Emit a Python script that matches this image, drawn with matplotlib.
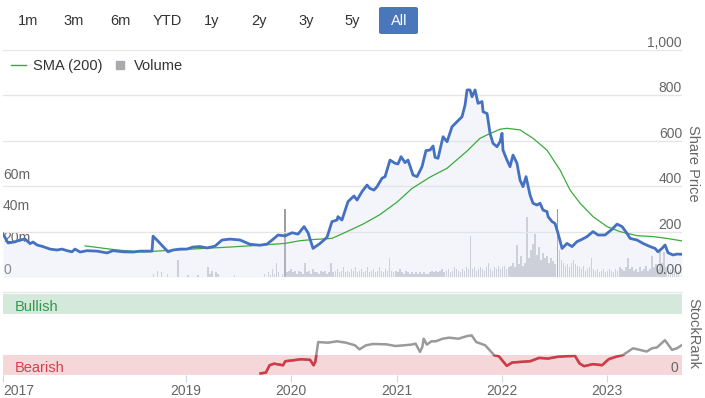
"""
Share price / volume / StockRank chart, drawn with matplotlib.
Writes out.png (705x398).
"""

import matplotlib
matplotlib.use("Agg")
import matplotlib.pyplot as plt
import matplotlib.transforms as mtransforms
from matplotlib.lines import Line2D
from matplotlib.patches import FancyBboxPatch, Rectangle
import numpy as np

plt.rcParams["font.family"] = ["Liberation Sans", "DejaVu Sans"]

# ---- data (x in decimal years) ----
PRICE_T = [
    2017.262, 2017.310, 2017.376, 2017.424, 2017.471, 2017.519, 2017.547, 2017.585,
    2017.642, 2017.708, 2017.775, 2017.822, 2017.870, 2017.917, 2017.946, 2017.993,
    2018.060, 2018.155, 2018.250, 2018.307, 2018.402, 2018.497, 2018.563, 2018.677,
    2018.687, 2018.734, 2018.782, 2018.829, 2018.877, 2018.943, 2019.009, 2019.066,
    2019.133, 2019.199, 2019.275, 2019.342, 2019.418, 2019.513, 2019.608, 2019.703,
    2019.769, 2019.826, 2019.874, 2019.940, 2020.007, 2020.064, 2020.121, 2020.159,
    2020.206, 2020.273, 2020.339, 2020.386, 2020.434, 2020.443, 2020.481, 2020.538,
    2020.595, 2020.624, 2020.671, 2020.719, 2020.747, 2020.785, 2020.814, 2020.861,
    2020.890, 2020.937, 2020.985, 2021.013, 2021.042, 2021.080, 2021.108, 2021.156,
    2021.194, 2021.241, 2021.279, 2021.317, 2021.346, 2021.365, 2021.393, 2021.441,
    2021.479, 2021.526, 2021.574, 2021.621, 2021.650, 2021.669, 2021.697, 2021.716,
    2021.745, 2021.773, 2021.811, 2021.821, 2021.859, 2021.868, 2021.887, 2021.915,
    2021.953, 2021.982, 2022.001, 2022.010, 2022.048, 2022.077, 2022.105, 2022.143,
    2022.172, 2022.200, 2022.229, 2022.267, 2022.295, 2022.333, 2022.362, 2022.390,
    2022.428, 2022.438, 2022.476, 2022.504, 2022.533, 2022.571, 2022.618, 2022.666,
    2022.713, 2022.761, 2022.808, 2022.865, 2022.913, 2022.979, 2023.045, 2023.093,
    2023.141, 2023.188, 2023.217, 2023.283, 2023.340, 2023.407, 2023.454, 2023.482,
    2023.520, 2023.549, 2023.577, 2023.625, 2023.662, 2023.710,
]
PRICE = [
    190, 150, 155, 163, 167, 147, 154, 141,
    134, 123, 119, 123, 116, 111, 123, 110,
    116, 114, 106, 116, 111, 110, 114, 114,
    180, 158, 134, 111, 119, 123, 123, 132,
    134, 128, 136, 163, 167, 163, 144, 140,
    145, 166, 185, 181, 195, 189, 222, 195,
    126, 148, 175, 244, 251, 266, 251, 332,
    357, 339, 376, 405, 390, 383, 398, 435,
    442, 515, 501, 498, 530, 504, 515, 449,
    442, 486, 557, 559, 577, 527, 523, 618,
    596, 662, 684, 706, 758, 824, 824, 794,
    824, 765, 773, 728, 720, 692, 633, 589,
    574, 596, 633, 559, 515, 486, 537, 501,
    427, 398, 442, 361, 325, 317, 325, 295,
    288, 266, 244, 236, 192, 126, 148, 134,
    156, 166, 178, 200, 185, 185, 210, 233,
    222, 192, 170, 163, 148, 134, 126, 111,
    126, 141, 107, 97, 101, 100,
]

SMA_T = [
    2018.041, 2018.345, 2018.592, 2018.820, 2019.133, 2019.418, 2019.731, 2019.940,
    2020.083, 2020.206, 2020.386, 2020.529, 2020.681, 2020.842, 2021.004, 2021.146,
    2021.317, 2021.479, 2021.669, 2021.792, 2021.859, 2021.982, 2022.048, 2022.172,
    2022.295, 2022.428, 2022.552, 2022.647, 2022.742, 2022.865, 2022.998, 2023.121,
    2023.283, 2023.435, 2023.567, 2023.710,
]
SMA = [
    137, 119, 110, 117, 125, 132, 141, 148,
    160, 165, 170, 200, 233, 275, 330, 390,
    440, 479, 555, 611, 626, 651, 655, 648,
    611, 559, 471, 383, 325, 266, 222, 200,
    182, 178, 170, 159,
]

# weekly volume in millions, first week at VOL_START
VOL_START = 2018.673
VOL = [
    0, 2, 0, 4, 0, 3, 0, 0, 2, 0, 0, 0, 0, 11, 0, 0, 0, 0, 1, 0,
    0, 0, 0, 1, 0, 0, 0, 0, 6, 2, 4, 0, 3, 2, 0, 0, 0, 0, 0, 0,
    0, 1, 0, 0, 0, 0, 0, 0, 0, 0, 0, 0, 0, 0, 0, 0, 2, 0, 3, 1,
    5, 2, 9, 3, 0, 2, 43, 3, 4, 5, 3, 4, 2, 4, 3, 2, 9, 3, 4, 2,
    5, 3, 3, 2, 4, 3, 4, 2, 3, 9, 3, 4, 5, 3, 4, 6, 3, 4, 3, 5,
    4, 6, 3, 4, 5, 3, 4, 6, 3, 4, 5, 3, 4, 6, 4, 3, 5, 4, 12, 4,
    3, 4, 3, 5, 3, 2, 4, 3, 2, 3, 2, 3, 2, 3, 2, 3, 2, 2, 3, 4,
    3, 4, 3, 4, 5, 3, 4, 5, 3, 4, 6, 5, 4, 3, 5, 4, 6, 5, 26, 5,
    6, 4, 5, 6, 5, 4, 6, 9, 5, 4, 6, 5, 7, 5, 6, 7, 5, 6, 7, 9,
    6, 20, 8, 13, 7, 9, 38, 12, 17, 21, 27, 14, 19, 11, 15, 12, 13, 9, 12, 10,
    8, 43, 17, 11, 9, 7, 8, 6, 9, 11, 8, 7, 6, 5, 7, 4, 5, 6, 12, 5,
    4, 5, 3, 4, 5, 3, 4, 5, 4, 3, 5, 4, 6, 5, 4, 6, 12, 5, 6, 4,
    5, 3, 6, 4, 5, 7, 4, 5, 13, 6, 8, 5, 17, 9, 16, 6, 4, 5, 3, 4,
    3, 4,
]

RANK_T = [
    2019.708, 2019.759, 2019.793, 2019.836, 2019.878, 2019.921, 2019.943, 2020.007,
    2020.092, 2020.178, 2020.212, 2020.229, 2020.255, 2020.348, 2020.433, 2020.519,
    2020.604, 2020.647, 2020.710, 2020.775, 2020.902, 2020.988, 2021.073, 2021.138,
    2021.180, 2021.222, 2021.244, 2021.257, 2021.287, 2021.330, 2021.372, 2021.436,
    2021.500, 2021.585, 2021.670, 2021.713, 2021.756, 2021.841, 2021.927, 2021.970,
    2022.046, 2022.097, 2022.182, 2022.268, 2022.353, 2022.439, 2022.523, 2022.609,
    2022.694, 2022.737, 2022.780, 2022.865, 2022.951, 2023.014, 2023.079, 2023.150,
    2023.245, 2023.375, 2023.425, 2023.472, 2023.548, 2023.615, 2023.662, 2023.710,
]
RANK = [
    2, 3, 12, 14, 13, 12, 17, 18,
    19.5, 18.7, 12, 17, 40.7, 39.9, 41.6, 39.9,
    36.7, 31.7, 36.7, 38.3, 37.9, 35.8, 36.7, 37.5,
    38.7, 28.5, 34.6, 44.8, 37.5, 41.6, 41.6, 44.8,
    46.1, 44.8, 48.1, 48.9, 40.7, 36.7, 24.4, 23.2,
    11.3, 15.4, 16.2, 17, 21.1, 20.3, 22.4, 23.2,
    23.6, 14.2, 10.9, 13.4, 12.1, 19.5, 22.4, 24.7,
    33, 29, 33, 34, 43, 31, 33, 37,
]

PRICE_TICKS = [0, 200, 400, 600, 800, 1000]
PRICE_TICK_LABELS = ["0.00", "200", "400", "600", "800", "1,000"]
VOL_TICKS = [0, 20, 40, 60]
VOL_TICK_LABELS = ["0", "20m", "40m", "60m"]
YEAR_TICKS = [2017.262, 2019, 2020, 2021, 2022, 2023]
YEAR_LABELS = ["2017", "2019", "2020", "2021", "2022", "2023"]
RANGE_BUTTONS = ["1m", "3m", "6m", "YTD", "1y", "2y", "3y", "5y", "All"]

# ---- style / layout ----
W, H = 705, 398
BUTTON_X = [28, 74, 120, 167, 212, 259, 306, 352, 399]
GRID = "#e6e6e6"
LABEL = "#666666"
BLUE = "#4471c1"
GREEN = "#3cab3c"
VOL_TOP = 227 / 1.59  # volume axis max (millions) over the plot height
X_END = 2023.710


def fx(x):
    return x / W


def fy(y):
    return 1 - y / H


fig = plt.figure(figsize=(W / 100, H / 100), dpi=100)

main_rect = [fx(3), fy(277), (682 - 3) / W, (277 - 50) / H]
axv = fig.add_axes(main_rect, zorder=1)
ax = fig.add_axes(main_rect, zorder=2, facecolor="none")

# volume bars (bottom layer)
vol = np.array(VOL, dtype=float)
vol_x = VOL_START + np.arange(len(vol)) * 7 / 365.25
vol_colors = np.where(vol >= 40, "#9d9da2", "#c9cacf")
axv.bar(vol_x, vol, width=5 / 365.25, color=vol_colors, linewidth=0)
axv.set_ylim(0, VOL_TOP)
axv.set_xlim(YEAR_TICKS[0], X_END)
axv.axis("off")

# price + SMA
ax.fill_between(PRICE_T, PRICE, 0, color="#d8e0f2", alpha=0.3, lw=0)
ax.plot(SMA_T, SMA, color=GREEN, lw=0.9, zorder=3)
ax.plot(PRICE_T, PRICE, color=BLUE, lw=2.0, zorder=4, solid_joinstyle="round")
ax.set_xlim(YEAR_TICKS[0], X_END)
ax.set_ylim(0, 1000)
ax.set_yticks(PRICE_TICKS)
ax.set_xticks([])
ax.tick_params(left=False, labelleft=False, right=False)
ax.grid(axis="y", color=GRID, lw=1.0, zorder=0)
ax.set_axisbelow(True)
for s in ax.spines.values():
    s.set_visible(False)

trans_r = mtransforms.blended_transform_factory(ax.transAxes, ax.transData)
for v, lbl in zip(PRICE_TICKS, PRICE_TICK_LABELS):
    ax.text(1.0, v, lbl, transform=trans_r, ha="right", va="bottom",
            fontsize=10, color=LABEL, zorder=5)

trans_l = mtransforms.blended_transform_factory(axv.transAxes, axv.transData)
for v, lbl in zip(VOL_TICKS, VOL_TICK_LABELS):
    axv.text(0.0, v, lbl, transform=trans_l, ha="left", va="bottom",
             fontsize=10, color=LABEL, zorder=5)

# legend
handles = [
    Line2D([], [], color=GREEN, lw=1.0),
    Line2D([], [], color="#a9a9ae", marker="s", markersize=5.5, ls="none"),
]
ax.legend(handles, ["SMA (200)", "Volume"], loc="center left",
          bbox_to_anchor=(0.002, (277 - 66) / 227), ncol=2, frameon=False,
          fontsize=10.5, handlelength=1.0, handletextpad=0.5,
          columnspacing=0.7, borderaxespad=0, borderpad=0.45,
          labelcolor="#333333")

fig.text(fx(693), fy(163), "Share Price", rotation=270, ha="center",
         va="center", fontsize=10.5, color=LABEL)

# ---- StockRank panel ----
axr = fig.add_axes([fx(3), fy(375), (682 - 3) / W, (375 - 292) / H])
axr.axhspan(75, 100, color="#d4e8dc", lw=0, zorder=0)
axr.axhspan(0, 25, color="#f5d7d9", lw=0, zorder=0)
axr.axhline(102.5, color=GRID, lw=1.0, clip_on=False)
axr.plot(RANK_T, RANK, color="#9a9a9a", lw=1.8, zorder=2)
red_line, = axr.plot(RANK_T, RANK, color="#d23a45", lw=1.8, zorder=3)
red_line.set_clip_path(Rectangle((YEAR_TICKS[0], 0), 10, 25,
                                 transform=axr.transData))
axr.set_xlim(YEAR_TICKS[0], X_END)
axr.set_ylim(0, 102.5)
axr.set_yticks([])
axr.set_xticks(YEAR_TICKS)
axr.set_xticklabels(YEAR_LABELS)
axr.get_xticklabels()[0].set_ha("left")
axr.tick_params(axis="x", direction="out", length=5, color="#ccd6eb",
                labelsize=10, labelcolor=LABEL, pad=1.5)
for s in axr.spines.values():
    s.set_visible(False)

trans_b = mtransforms.blended_transform_factory(axr.transAxes, axr.transData)
axr.text(0.018, 84, "Bullish", transform=trans_b, ha="left", va="center",
         fontsize=10.5, color="#2f9a4c")
axr.text(0.018, 9, "Bearish", transform=trans_b, ha="left", va="center",
         fontsize=10.5, color="#d5404c")
axr.text(0.995, 9, "0", transform=trans_b, ha="right", va="center",
         fontsize=10, color=LABEL)
fig.text(fx(693), fy(333), "StockRank", rotation=270, ha="center",
         va="center", fontsize=10.5, color=LABEL)

# ---- range selector buttons ----
fig.patches.append(FancyBboxPatch(
    (fx(379), fy(34)), 39 / W, 27 / H,
    boxstyle="round,pad=0,rounding_size=0.004",
    transform=fig.transFigure, facecolor="#4a76bb", edgecolor="none"))
for x, lbl in zip(BUTTON_X, RANGE_BUTTONS):
    fig.text(fx(x), fy(21), lbl, ha="center", va="center", fontsize=10.5,
             color="white" if lbl == "All" else "#333333")

fig.savefig("out.png", dpi=100)
